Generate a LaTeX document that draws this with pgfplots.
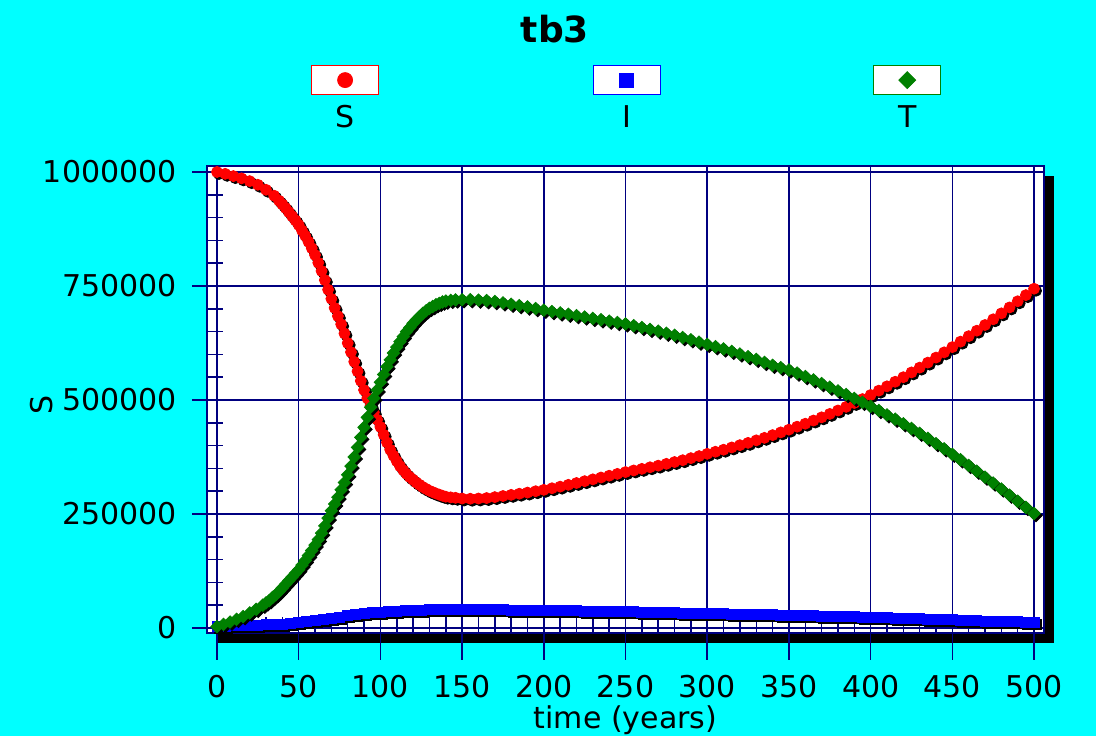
\documentclass[border=0pt]{standalone}
\usepackage{fontspec}
\setmainfont{DejaVu Sans}
\usepackage{pgfplots}
\usepackage{pgfplotstable}
\pgfplotsset{compat=1.18}

% colours
\definecolor{bgCyan}{HTML}{00FFFF}
\definecolor{gridNavy}{HTML}{000080}
\definecolor{serS}{HTML}{FF0000}
\definecolor{serI}{HTML}{0000FF}
\definecolor{serT}{HTML}{008000}

\newcommand{\lblfont}{\fontsize{15}{18}\selectfont}

% S (red circles)
\pgfplotstableread{
t v
0 1000000
5 996000
10 991000
15 986000
20 980000
25 972000
30 961000
35 948000
38 937000
40 929000
42 921000
44 912000
46 903000
48 894000
50 884000
52 872000
54 860000
56 847000
58 833000
60 818000
62 801000
64 783000
66 763000
68 742000
70 722000
72 702000
74 684000
76 666000
78 646000
80 625000
82 605000
84 584000
86 563000
88 542000
90 522000
92 504000
94 488000
96 473000
98 457000
100 441000
102 424000
104 407000
106 391000
108 378000
110 366000
112 355000
114 346000
116 338000
118 331000
120 325000
122 319000
124 314000
126 309000
128 305000
130 301000
132 298000
134 295000
136 292500
138 290000
140 288000
143 286500
146 285500
150 284000
155 283500
160 284000
165 285000
170 287000
175 289500
180 292000
185 294500
190 297000
195 300000
200 303000
205 306500
210 310000
215 314000
220 318000
225 322000
230 326000
235 330000
240 334000
245 338000
250 342000
255 345500
260 349000
265 352500
270 356000
275 360000
280 364000
285 368000
290 372500
295 377000
300 382000
305 386500
310 391000
315 396000
320 401000
325 406000
330 411500
335 417000
340 423000
345 429000
350 435000
355 441500
360 448000
365 455000
370 462000
375 469500
380 477000
385 485000
390 493500
395 502000
400 511000
405 520500
410 530000
415 540000
420 550000
425 560500
430 571000
435 582000
440 593000
445 604500
450 616000
455 628000
460 640000
465 652000
470 664500
475 677000
480 690000
485 703000
490 716500
495 730000
500 744000
}\Sdata

% I (blue squares)
\pgfplotstableread{
t v
0 3000
5 4000
10 5000
15 5500
20 6000
25 6500
30 7000
35 8000
40 9000
45 10500
50 12000
55 14000
60 16000
65 18500
70 21000
75 24000
80 27000
85 29500
90 31500
95 33500
100 35000
105 36500
110 37500
115 38500
120 39000
125 39500
130 40000
135 40000
140 40000
145 40000
150 40000
155 40000
160 40000
165 40000
170 40000
175 40000
180 39500
185 39500
190 39500
195 39000
200 39000
205 38500
210 38500
215 38000
220 38000
225 37500
230 37000
235 37000
240 36500
245 36000
250 36000
255 35500
260 35000
265 34500
270 34000
275 34000
280 33500
285 33000
290 32500
295 32000
300 32000
305 31500
310 31000
315 30500
320 30000
325 30000
330 29500
335 29000
340 29000
345 28500
350 28500
355 28000
360 27500
365 27000
370 26500
375 26000
380 25500
385 25000
390 24500
395 24000
400 24000
405 23500
410 23000
415 22000
420 21500
425 21000
430 20000
435 19500
440 19000
445 18500
450 18000
455 17000
460 16500
465 16000
470 15500
475 15000
480 14500
485 14000
490 13500
495 13000
500 13000
}\Idata

% T (green diamonds)
\pgfplotstableread{
t v
0 3000
4 8000
8 13000
12 19000
16 25000
20 33000
24 41000
28 50000
30 55000
32 60000
34 67000
36 73000
38 80000
40 88000
42 96000
44 104000
46 112000
48 120000
50 128000
52 138000
54 148000
56 159000
58 170000
60 182000
62 194000
64 208000
66 224000
68 241000
70 257000
72 272000
74 287000
76 303000
78 319000
80 336000
82 355000
84 375000
86 396000
88 418000
90 440000
92 462000
94 484000
96 504000
98 522000
100 539000
102 556000
104 573000
106 588000
108 603000
110 616000
112 628000
114 639000
116 650000
118 659000
120 668000
122 676000
124 683000
126 690000
128 696000
130 701000
132 705000
134 709000
136 712000
138 715000
140 717000
143 718500
146 719500
150 720000
155 720000
160 719000
165 718000
170 716000
175 713000
180 710000
185 707000
190 704000
195 700500
200 697000
205 694000
210 691000
215 688000
220 685000
225 682000
230 679000
235 676000
240 673000
245 670000
250 667000
255 663000
260 659000
265 655000
270 651000
275 646500
280 642000
285 637000
290 632000
295 627000
300 622000
305 617000
310 612000
315 606500
320 601000
325 595000
330 589000
335 582500
340 576000
345 571000
350 566000
355 559000
360 551500
365 544000
370 536000
375 528000
380 520000
385 512000
390 503500
395 495000
400 486000
405 477000
410 467500
415 458000
420 448000
425 437500
430 427000
435 416000
440 404500
445 393000
450 381000
455 369000
460 356500
465 344000
470 331000
475 318000
480 305000
485 291500
490 278000
495 264500
500 251000
}\Tdata

\begin{document}
\begin{tikzpicture}
% page: 1px = 0.5pt
\fill[bgCyan] (0pt,0pt) rectangle (548pt,368pt);
\path[use as bounding box] (0pt,0pt) rectangle (548pt,368pt);
\clip (0pt,0pt) rectangle (548pt,368pt);

% drop shadow of the plot box
\fill[black] (108.5pt,46.5pt) rectangle (527pt,280pt);

% title
\node[anchor=base, font=\bfseries\fontsize{18}{21}\selectfont] at (277.5pt,347pt) {tb3};

\begin{axis}[
    at={(103.5pt,51.5pt)}, anchor=south west,
    width=418.5pt, height=233.5pt, scale only axis,
    xmin=-6.12, xmax=506.1,
    ymin=-10965, ymax=1013158,
    clip=false,
    axis background/.style={fill=white},
    axis line style={gridNavy, line width=1pt},
    xtick={0,50,...,500},
    ytick={0,250000,500000,750000,1000000},
    minor x tick num=4, minor y tick num=4,
    tick pos=left, tick align=inside,
    major tick length=0pt, minor tick length=8pt,
    minor tick style={gridNavy, line width=0.75pt},
    xmajorgrids, ymajorgrids,
    grid style={gridNavy, line width=0.75pt},
    scaled y ticks=false,
    ticklabel style={font=\lblfont, text=black,
        /pgf/number format/fixed, /pgf/number format/1000 sep={},
        /pgf/number format/assume math mode=true},
    yticklabel style={anchor=east, inner sep=0pt, xshift=-15pt},
    xticklabel style={anchor=north, inner sep=0pt, yshift=-21pt},
    xlabel={time (years)}, ylabel={S},
    label style={font=\lblfont},
    xlabel style={at={(axis description cs:0.5,-0.2035)}, anchor=base, inner sep=0pt},
    ylabel style={at={(axis description cs:-0.198,0.4882)}, anchor=center, inner sep=0pt},
    legend columns=3,
    legend style={at={(axis description cs:0.12425,1.21627)}, anchor=north west,
        draw=none, fill=none, inner sep=0pt, outer sep=0pt,
        column sep=0pt, row sep=0pt,
        nodes={inner sep=0pt, outer sep=0pt}},
]

% legend keys: box with marker, name underneath
\addlegendimage{color=serS, mark=*, mark size=3.75pt,
  legend image code/.code={
    \path[draw=none, fill=none] (0pt,-7.25pt) rectangle (139.5pt,7.25pt);
    \draw[fill=white, line width=0.6pt] (0pt,-7.25pt) rectangle (33.5pt,7.25pt);
    \draw plot[only marks] coordinates {(16.75pt,0pt)};
    \node[anchor=base, text=black, font=\lblfont] at (16.75pt,-23.75pt) {S};
  }}
\addlegendentry{}
\addlegendimage{color=serI, mark=square*, mark size=3.5pt,
  legend image code/.code={
    \path[draw=none, fill=none] (0pt,-7.25pt) rectangle (139pt,7.25pt);
    \draw[fill=white, line width=0.6pt] (0pt,-7.25pt) rectangle (33.5pt,7.25pt);
    \draw plot[only marks] coordinates {(16.75pt,0pt)};
    \node[anchor=base, text=black, font=\lblfont] at (16.75pt,-23.75pt) {I};
  }}
\addlegendentry{}
\addlegendimage{color=serT, mark=square*, mark size=3pt, mark options={rotate=45},
  legend image code/.code={
    \draw[fill=white, line width=0.6pt] (0pt,-7.25pt) rectangle (33.5pt,7.25pt);
    \draw plot[only marks] coordinates {(16.75pt,0pt)};
    \node[anchor=base, text=black, font=\lblfont] at (16.75pt,-23.75pt) {T};
  }}
\addlegendentry{}

% major ticks, drawn outward by hand
\pgfplotsinvokeforeach{0,50,...,500}{
  \draw[gridNavy, line width=0.75pt] (axis cs:#1,-10965) -- ++(0pt,-13.5pt);
}
\pgfplotsinvokeforeach{0,250000,500000,750000,1000000}{
  \draw[gridNavy, line width=0.75pt] (axis cs:-6.12,#1) -- ++(-7.5pt,0pt);
}

% S
\addplot[only marks, mark=*, mark size=2.75pt, black,
  mark options={xshift=1pt, yshift=-1pt}, forget plot] table[x=t, y=v] {\Sdata};
\addplot[only marks, mark=*, mark size=2.75pt, serS, forget plot] table[x=t, y=v] {\Sdata};
% I
\addplot[only marks, mark=square*, mark size=2.5pt, black,
  mark options={xshift=1pt, yshift=-1pt}, forget plot] table[x=t, y=v] {\Idata};
\addplot[only marks, mark=square*, mark size=2.5pt, serI, forget plot] table[x=t, y=v] {\Idata};
% T
\addplot[only marks, mark=square*, mark size=2.2pt, black,
  mark options={xshift=1pt, yshift=-1pt, rotate=45}, forget plot] table[x=t, y=v] {\Tdata};
\addplot[only marks, mark=square*, mark size=2.2pt, serT,
  mark options={rotate=45}, forget plot] table[x=t, y=v] {\Tdata};

\end{axis}
\end{tikzpicture}
\end{document}
